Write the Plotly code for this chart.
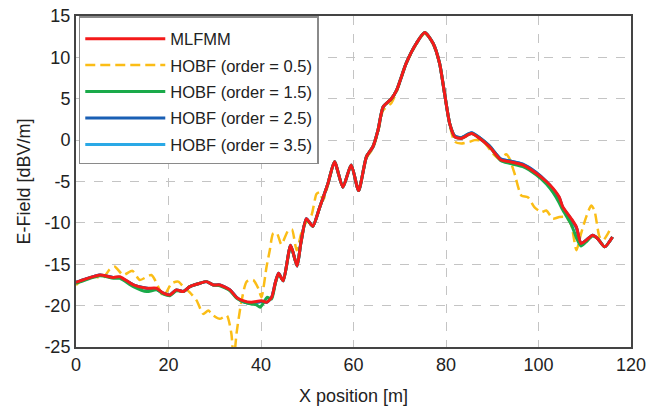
import plotly.graph_objects as go

# ---- data ----
x_mlfmm = [0, 2, 5.2, 8.1, 9.5, 12.4, 15.3, 17.4, 18.9, 20.3, 21.7, 23.2, 24.6, 26.8, 28.2, 29.7, 31.1,
           33.3, 34.7, 36.1, 37.9, 40.1, 41.2, 42.3, 43.1, 43.8, 44.8, 46.4, 47.8, 48.6, 49.8, 51.2,
           52.7, 54.5, 55.9, 57.7, 59.5, 61.1, 62.8, 64.2, 65.3, 66.4, 68.2, 69.3, 71.4, 73.6, 75.4,
           77.2, 78.6, 79.7, 80.8, 81.9, 83.3, 85.5, 87.3, 89.4, 91.9, 93.7, 96.6, 99.5, 101.7, 103.1,
           104.5, 105.2, 107.1, 108.2, 109.2, 110.3, 111.7, 112.8, 114.3, 116]
y_mlfmm = [-17.2, -16.8, -16.3, -16.6, -16.5, -17.5, -17.9, -17.9, -18.5, -18.7, -18.1, -18.3, -17.7,
           -17.3, -17.1, -17.5, -17.5, -18.1, -19.0, -19.4, -19.6, -19.4, -19.6, -19.0, -17.2, -16.1,
           -17.0, -12.7, -15.2, -12.5, -9.5, -10.4, -8.1, -5.2, -2.6, -5.7, -3.0, -6.1, -2.0, -0.8,
           1.2, 4.0, 5.0, 6.0, 9.3, 11.7, 13.0, 11.7, 9.3, 5.6, 2.0, 0.4, 0.2, 0.8, 0.2, -0.8, -2.4,
           -2.6, -3.0, -4.0, -5.0, -5.8, -6.9, -8.0, -9.5, -10.5, -12.5, -12.1, -11.5, -11.9, -12.9,
           -11.7]

x_o05 = [0, 1.6, 3.5, 5.9, 7.3, 8.4, 10.2, 12.2, 13.8, 16.3, 18.1, 18.9, 20.7, 22.1, 23.2, 24.6, 26.1,
         27.5, 28.6, 29.7, 31.1, 32.6, 33.6, 34.1, 34.7, 35.8, 36.9, 38.3, 39.4, 40.1, 41.2, 41.9,
         42.6, 43.4, 44.4, 45.9, 46.7, 47.7, 49.1, 50.9, 52.0, 52.7, 53.4, 54.5, 55.9, 57.7, 59.5,
         61.1, 62.8, 64.2, 65.3, 66.4, 68.2, 69.3, 71.4, 73.6, 75.4, 77.2, 78.6, 79.7, 80.8, 81.9,
         83.3, 85.1, 86.2, 88.0, 90.1, 91.6, 93.0, 93.7, 94.8, 96.3, 97.7, 99.1, 100.6, 101.7, 103.1,
         104.5, 106.0, 107.1, 108.2, 109.2, 110.3, 111.4, 112.1, 113.2, 114.0, 115.0, 115.7]
y_o05 = [-17.5, -16.8, -16.5, -16.6, -15.6, -15.3, -16.3, -15.8, -16.9, -16.3, -18.1, -18.9, -17.3,
         -17.1, -17.7, -18.4, -19.4, -21.0, -20.6, -21.2, -21.6, -21.2, -23.4, -26.8, -23.4, -19.4,
         -17.1, -16.9, -17.9, -19.0, -15.3, -13.3, -11.3, -11.2, -12.6, -10.9, -10.8, -13.3, -10.5,
         -9.1, -6.5, -6.3, -7.3, -5.4, -2.7, -5.6, -3.1, -6.0, -2.2, -1.0, 0.9, 3.6, 4.5, 5.8, 9.2,
         11.6, 12.9, 11.6, 9.2, 5.6, 1.8, -0.2, -0.4, -0.2, 0.0, -0.1, -1.6, -2.3, -1.7, -2.2, -4.0,
         -6.7, -6.9, -8.1, -8.7, -8.5, -9.5, -9.3, -9.3, -10.3, -13.3, -11.3, -9.3, -7.9, -8.5,
         -11.7, -12.1, -11.3, -10.5]

x_o15 = [0, 2, 5.2, 8.1, 9.5, 12.4, 15.3, 17.4, 18.9, 20.3, 21.7, 23.2, 24.6, 26.8, 28.2, 29.7, 31.1,
         33.3, 34.7, 36.1, 37.9, 39.0, 39.8, 40.6, 41.3, 42.3, 43.1, 43.8, 44.8, 46.4, 47.8, 48.6,
         49.8, 51.2, 52.7, 54.5, 55.9, 57.7, 59.5, 61.1, 62.8, 64.2, 65.3, 66.4, 68.2, 69.3, 71.4,
         73.6, 75.4, 77.2, 78.6, 79.7, 80.8, 81.9, 83.3, 85.5, 87.3, 89.4, 91.9, 93.7, 96.6, 99.5,
         101.7, 103.1, 104.5, 105.2, 107.1, 108.2, 109.2, 110.3, 111.7, 112.8, 114.3, 116]
y_o15 = [-17.3, -16.9, -16.4, -16.7, -16.7, -17.7, -18.3, -18.1, -18.6, -18.8, -18.2, -18.3, -17.7,
         -17.3, -17.1, -17.5, -17.6, -18.2, -19.1, -19.5, -19.8, -19.9, -20.2, -19.6, -19.0, -19.2,
         -17.3, -16.2, -17.0, -12.8, -15.2, -12.5, -9.6, -10.4, -8.1, -5.2, -2.6, -5.7, -3.0, -6.1,
         -2.0, -0.8, 1.2, 4.0, 5.0, 6.0, 9.3, 11.7, 13.0, 11.7, 9.3, 5.6, 2.0, 0.4, 0.2, 0.8, 0.2,
         -0.8, -2.5, -2.8, -3.2, -4.2, -5.3, -6.3, -7.6, -8.4, -10.2, -11.8, -12.8, -12.3, -11.6,
         -11.9, -12.9, -11.7]

x_o25 = x_mlfmm
y_o25 = [-17.2, -16.8, -16.3, -16.6, -16.6, -17.5, -17.9, -18.0, -18.5, -18.7, -18.1, -18.3, -17.7,
         -17.3, -17.1, -17.5, -17.5, -18.1, -19.0, -19.5, -19.7, -19.5, -19.6, -19.0, -17.2, -16.1,
         -17.0, -12.7, -15.2, -12.5, -9.5, -10.4, -8.1, -5.2, -2.6, -5.7, -3.0, -6.1, -2.0, -0.8,
         1.2, 4.0, 5.0, 6.0, 9.3, 11.7, 13.0, 11.7, 9.3, 5.6, 2.0, 0.5, 0.3, 0.9, 0.3, -0.7, -2.3,
         -2.5, -2.9, -3.9, -5.0, -5.9, -7.0, -8.1, -9.6, -10.6, -12.5, -12.1, -11.5, -11.9, -12.9,
         -11.7]

x_o35 = x_mlfmm
y_o35 = list(y_o25)

names = ["MLFMM", "HOBF (order = 0.5)", "HOBF (order = 1.5)", "HOBF (order = 2.5)", "HOBF (order = 3.5)"]

x_ticks = [0, 20, 40, 60, 80, 100, 120]
y_ticks = [15, 10, 5, 0, -5, -10, -15, -20, -25]

fig = go.Figure()
# draw order: yellow, light blue, blue, green, red (on top); legend order by legendrank
specs = [
    (x_o05, y_o05, names[1], 2, dict(color="#fbbd16", width=2.5, dash="10px,5px")),
    (x_o35, y_o35, names[4], 5, dict(color="#2aa9e6", width=3)),
    (x_o25, y_o25, names[3], 4, dict(color="#1a5fb4", width=3)),
    (x_o15, y_o15, names[2], 3, dict(color="#1aaa4a", width=3)),
    (x_mlfmm, y_mlfmm, names[0], 1, dict(color="#f41a1a", width=3)),
]
for xs, ys, nm, rank, ln in specs:
    fig.add_trace(go.Scatter(x=xs, y=ys, name=nm, mode="lines", legendrank=rank,
                             legendgroup=nm,
                             line=dict(shape="spline", smoothing=0.6, **ln)))

font_family = "Liberation Sans, Arial, sans-serif"
axis_common = dict(showline=True, mirror=True, linecolor="#444444", linewidth=2,
                   showgrid=True, gridcolor="#c4c4c4", griddash="dash", gridwidth=1,
                   zeroline=False, ticks="", automargin=False, ticklabeloverflow="allow",
                   tickfont=dict(size=18, color="#222222"))

fig.update_xaxes(range=[0, 120], tickvals=x_ticks, ticktext=[str(v) for v in x_ticks],
                 title=dict(text="X position [m]", font=dict(size=18, color="#222222"), standoff=16),
                 **axis_common)
fig.update_yaxes(range=[-25, 15], tickvals=y_ticks, ticktext=[str(v) for v in y_ticks],
                 title=dict(text="E-Field [dBV/m]", font=dict(size=18, color="#222222"), standoff=9),
                 **axis_common)

fig.update_layout(
    width=663, height=407,
    margin=dict(l=76, r=32, t=16, b=60, autoexpand=False),
    paper_bgcolor="white", plot_bgcolor="white",
    font=dict(family=font_family, color="#222222"),
    showlegend=True,
    legend=dict(x=0.005, y=1.0, xanchor="left", yanchor="top",
                bgcolor="white", bordercolor="#8a8a8a", borderwidth=1.5,
                font=dict(size=16.5, color="#222222"), itemwidth=80,
                traceorder="grouped", tracegroupgap=2,
                title=dict(text=" ", font=dict(size=3))),
)

fig.write_html("out.html", post_script="document.body.style.margin='0';",
               config={"displayModeBar": False})
